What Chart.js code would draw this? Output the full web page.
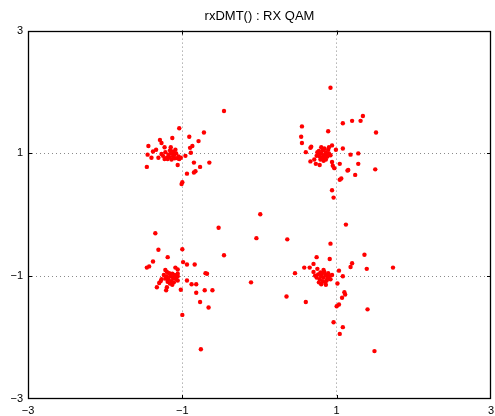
<!DOCTYPE html>
<html>
<head>
<meta charset="utf-8">
<script src="https://cdn.jsdelivr.net/npm/chart.js@4"></script>
<style>
  body { margin: 0; background: #fff; }
  #wrap { width: 495px; height: 416px; }
</style>
</head>
<body>
<div id="wrap"><canvas id="qamChart"></canvas></div>
<script>
const chartTitle = 'rxDMT() : RX QAM';
const tickValues = [-3, -1, 1, 3];

// received symbols, one pair of arrays per constellation point (I = x, Q = y)
const iTopLeft = [-0.46, -1.04, -1.13, -0.91, -0.72, -0.79, -1.29, -1.27, -1.44, -1.34, -1.38, -1.45, -1.40, -1.31, -1.23, -1.15, -1.12, -1.04, -0.96, -0.89, -0.90, -0.87, -1.06, -0.85, -0.65, -0.77, -0.94, -0.85, -0.83, -1.46, -1.01, -1.00,
  -1.18, -1.15, -1.12, -1.20, -1.10, -1.05, -1.22, -1.16, -1.08, -1.14, -1.25, -1.19, -1.11, -1.06, -1.02, -1.23, -1.17, -1.13, -1.27, -1.09];
const qTopLeft = [1.69, 1.41, 1.25, 1.27, 1.34, 1.20, 1.22, 1.17, 1.12, 1.06, 1.03, 0.98, 0.93, 0.93, 1.10, 1.10, 1.02, 0.91, 0.96, 1.01, 1.09, 1.12, 0.81, 0.85, 0.85, 0.78, 0.67, 0.69, 0.71, 0.78, 0.50, 0.53,
  0.98, 1.00, 0.95, 0.93, 0.92, 0.95, 1.02, 1.05, 1.00, 0.90, 0.96, 0.91, 0.97, 0.92, 0.93, 0.91, 0.94, 1.03, 0.99, 1.06];

const iTopRight = [0.92, 1.34, 1.20, 1.31, 1.08, 0.55, 0.89, 1.51, 0.54, 0.55, 0.67, 0.66, 0.60, 0.94, 0.99, 1.08, 1.18, 1.28, 0.66, 0.73, 0.78, 0.71, 0.94, 0.95, 1.04, 0.97, 1.28, 1.50, 1.15, 1.14, 1.24, 1.06, 1.04, 0.94, 0.96, 0.75, 0.90,
  0.80, 0.83, 0.86, 0.78, 0.82, 0.88, 0.76, 0.85, 0.79, 0.84, 0.90, 0.81, 0.87, 0.77, 0.83, 0.74, 0.89, 0.80, 0.86, 0.92];
const qTopRight = [2.07, 1.61, 1.53, 1.53, 1.49, 1.44, 1.36, 1.34, 1.27, 1.17, 1.11, 1.09, 1.02, 1.13, 1.06, 1.08, 0.98, 1.00, 0.87, 0.83, 0.81, 0.90, 0.86, 0.80, 0.83, 0.76, 0.83, 0.74, 0.73, 0.72, 0.65, 0.59, 0.57, 0.40, 0.28, 1.02, 1.10,
  1.00, 0.97, 1.02, 0.95, 1.05, 0.95, 1.00, 0.92, 0.90, 1.08, 1.00, 0.93, 0.98, 1.04, 0.88, 0.96, 1.06, 1.10, 0.90, 0.97];

const iBottomLeft = [-0.53, -1.35, -0.46, -1.31, -1.00, -1.19, -1.38, -1.46, -1.43, -0.99, -0.94, -0.84, -1.09, -1.06, -1.22, -0.70, -0.68, -0.94, -0.88, -0.82, -1.28, -1.30, -1.33, -1.21, -1.02, -0.82, -0.71, -0.61, -0.77, -0.66, -1.00, -0.76, -1.06, -1.06, -1.20, -1.27,
  -1.15, -1.12, -1.18, -1.10, -1.20, -1.14, -1.08, -1.17, -1.22, -1.13, -1.11, -1.19, -1.16, -1.09, -1.24, -1.13, -1.06, -1.20];
const qBottomLeft = [-0.21, -0.30, -0.66, -0.57, -0.56, -0.69, -0.76, -0.86, -0.84, -0.77, -0.81, -0.81, -0.86, -0.89, -0.90, -0.95, -0.96, -1.07, -1.13, -1.13, -1.08, -1.11, -1.18, -1.23, -1.22, -1.27, -1.23, -1.23, -1.42, -1.51, -1.63, -2.19, -1.00, -0.96, -1.18, -1.05,
  -1.00, -1.03, -1.05, -0.98, -1.00, -1.08, -1.05, -0.95, -1.04, -0.96, -1.10, -1.09, -1.12, -1.00, -0.98, -1.14, -1.07, -0.93];

const iBottomRight = [0.01, 1.12, 0.36, 0.92, 1.36, 0.74, 0.91, 1.20, 1.18, 1.39, 1.73, 0.70, 0.58, 0.65, 0.46, 1.03, 1.08, 1.01, 1.10, 1.11, 1.07, 0.35, 0.60, 1.03, 1.00, 1.40, 0.96, 1.08, 1.04, 1.49, 0.70, 0.75, -0.04, -0.11,
  0.80, 0.83, 0.86, 0.78, 0.82, 0.88, 0.76, 0.85, 0.79, 0.90, 0.81, 0.87, 0.74, 0.92, 0.84, 0.77, 0.89, 0.80, 0.94, 0.72, 0.86, 0.83];
const qBottomRight = [0.01, -0.16, -0.40, -0.47, -0.65, -0.69, -0.72, -0.79, -0.85, -0.88, -0.86, -0.80, -0.86, -0.86, -0.95, -0.91, -1.00, -1.12, -1.26, -1.30, -1.35, -1.33, -1.42, -1.46, -1.49, -1.54, -1.75, -1.83, -1.94, -2.22, -0.93, -0.88, -0.38, -1.10,
  -1.00, -1.02, -0.98, -1.05, -1.08, -1.04, -0.97, -1.10, -0.94, -1.00, -0.96, -1.07, -1.02, -1.05, -0.93, -1.10, -0.95, -1.13, -0.98, -0.99, -1.14, -0.90];

function toPoints(iv, qv) {
    return iv.map((x, k) => ({ x: x, y: qv[k] }));
}

const rxPoints = [].concat(
    toPoints(iTopLeft, qTopLeft),
    toPoints(iTopRight, qTopRight),
    toPoints(iBottomLeft, qBottomLeft),
    toPoints(iBottomRight, qBottomRight)
);

const fontFamily = '"Liberation Sans", Arial, Helvetica, sans-serif';
Chart.defaults.font.family = fontFamily;
Chart.defaults.color = '#000';

function tickLabel(v) {
    return v < 0 ? '\u2212' + Math.abs(v) : String(v);
}

function gridColor(ctx) {
    // no grid line on the frame itself
    if (ctx.tick && (ctx.tick.value === tickValues[0] || ctx.tick.value === tickValues[tickValues.length - 1])) {
        return 'rgba(0,0,0,0)';
    }
    return '#8a8a8a';
}

// black box round the plot plus the small inward tick marks
const framePlugin = {
    id: 'frame',
    afterDraw(chart) {
        const { ctx, chartArea: a, scales } = chart;
        const len = 4;
        ctx.save();
        ctx.strokeStyle = '#000';
        ctx.lineWidth = 1;
        ctx.beginPath();
        tickValues.slice(1, -1).forEach(v => {
            const px = Math.round(scales.x.getPixelForValue(v)) + 0.5;
            ctx.moveTo(px, a.bottom); ctx.lineTo(px, a.bottom - len);
            ctx.moveTo(px, a.top); ctx.lineTo(px, a.top + len);
            const py = Math.round(scales.y.getPixelForValue(v)) + 0.5;
            ctx.moveTo(a.left, py); ctx.lineTo(a.left + len, py);
            ctx.moveTo(a.right, py); ctx.lineTo(a.right - len, py);
        });
        ctx.stroke();
        ctx.lineWidth = 1.3;
        ctx.strokeRect(Math.round(a.left) + 0.5, Math.round(a.top) + 0.5,
            Math.round(a.width) - 1, Math.round(a.height) - 1);
        ctx.restore();
    }
};

const ctx = document.getElementById('qamChart').getContext('2d');

new Chart(ctx, {
    type: 'scatter',
    data: {
        datasets: [{
            label: 'RX QAM',
            data: rxPoints,
            backgroundColor: '#ff0000',
            borderColor: '#ff0000',
            pointRadius: 2.2,
            pointBorderWidth: 0
        }]
    },
    options: {
        responsive: true,
        maintainAspectRatio: false,
        animation: false,
        layout: { padding: { top: 0, left: 0, right: 2, bottom: 0 } },
        plugins: {
            legend: { display: false },
            tooltip: { enabled: false },
            title: {
                display: true,
                text: chartTitle,
                fullSize: false,
                color: '#000',
                font: { size: 13, weight: 'normal' },
                padding: { top: 9, bottom: 6 }
            }
        },
        scales: {
            x: {
                type: 'linear',
                min: -3,
                max: 3,
                afterBuildTicks: s => { s.ticks = tickValues.map(v => ({ value: v })); },
                afterFit: s => { s.height = 17; s.paddingLeft = 0; s.paddingRight = 0; },
                ticks: {
                    font: { size: 11 },
                    padding: 5,
                    maxRotation: 0,
                    autoSkip: false,
                    callback: v => tickLabel(v)
                },
                grid: { color: gridColor, lineWidth: 1, drawTicks: false },
                border: { display: false, dash: [1, 3] }
            },
            y: {
                type: 'linear',
                min: -3,
                max: 3,
                afterBuildTicks: s => { s.ticks = tickValues.map(v => ({ value: v })); },
                afterFit: s => { s.width = 28; },
                ticks: {
                    font: { size: 11 },
                    padding: 5,
                    autoSkip: false,
                    callback: v => tickLabel(v)
                },
                grid: { color: gridColor, lineWidth: 1, drawTicks: false },
                border: { display: false, dash: [1, 3] }
            }
        }
    },
    plugins: [framePlugin]
});
</script>
</body>
</html>
